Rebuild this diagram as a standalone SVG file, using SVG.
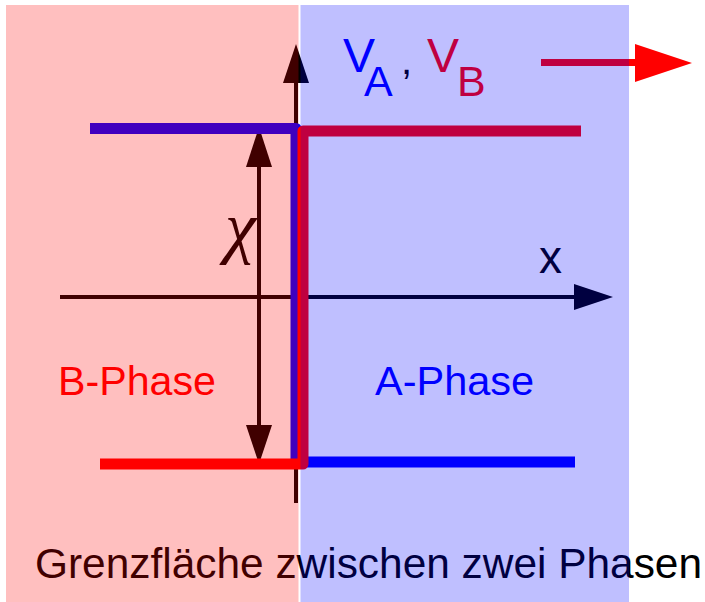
<svg xmlns="http://www.w3.org/2000/svg" width="705" height="602" viewBox="0 0 705 602">
<style>
text{font-family:"Liberation Sans",Arial,sans-serif}
.ax{stroke:#000;stroke-width:4;fill:none}
.ah{fill:#000}
.ov{fill-opacity:0.25}
</style>
<rect width="705" height="602" fill="#fff"/>
<g id="labels">
<text x="35" y="578" font-size="42.5" fill="#000" textLength="667" lengthAdjust="spacingAndGlyphs">Grenzfläche zwischen zwei Phasen</text>
<text x="58" y="395" font-size="41.2" fill="#f00">B-Phase</text>
<text x="375" y="395" font-size="41.5" fill="#00f">A-Phase</text>
<text x="539" y="273" font-size="46" fill="#000">x</text>
<text x="225" y="250" font-size="70" font-style="italic" style="font-family:'Liberation Serif','DejaVu Serif',serif" fill="#000">χ</text>
<text x="343" y="72" fill="#00f"><tspan font-size="48">V</tspan><tspan font-size="43" dx="-11" dy="24">A</tspan></text>
<text x="401" y="74" font-size="40" fill="#000">,</text>
<text x="427" y="72" fill="#f00"><tspan font-size="48">V</tspan><tspan font-size="43" dx="-2" dy="24">B</tspan></text>
</g>
<g id="connectors">
<g id="y-axis">
<line class="ax" x1="296" y1="503" x2="296" y2="80"/>
<polygon class="ah" points="296,44 309,83 283,83"/>
</g>
<g id="x-axis">
<line class="ax" x1="60" y1="297" x2="578" y2="297"/>
<polygon class="ah" points="613,297 574,310 574,284"/>
</g>
<g id="chi-arrow">
<line class="ax" x1="259" y1="163" x2="259" y2="428"/>
<polygon class="ah" points="259,127 272,167 246,167"/>
<polygon class="ah" points="259,464 272,425 246,425"/>
</g>
<g id="VA">
<path d="M90,128.5 H296 V462 H575" fill="none" stroke="#00f" stroke-width="11" stroke-linejoin="round"/>
</g>
<g id="VB">
<path d="M100,464 H303 V131 H581" fill="none" stroke="#f00" stroke-width="11" stroke-linejoin="round"/>
</g>
<g id="flow-arrow">
<line x1="541" y1="62.5" x2="640" y2="62.5" stroke="#f00" stroke-width="7"/>
<polygon points="635,44 692,63 635,82" fill="#f00"/>
</g>
</g>
<g id="phases">
<rect id="B-phase" class="ov" x="6" y="5" width="292.5" height="597" fill="#f00"/>
<rect id="A-phase" class="ov" x="300.5" y="5" width="328.5" height="597" fill="#00f"/>
</g>
</svg>
